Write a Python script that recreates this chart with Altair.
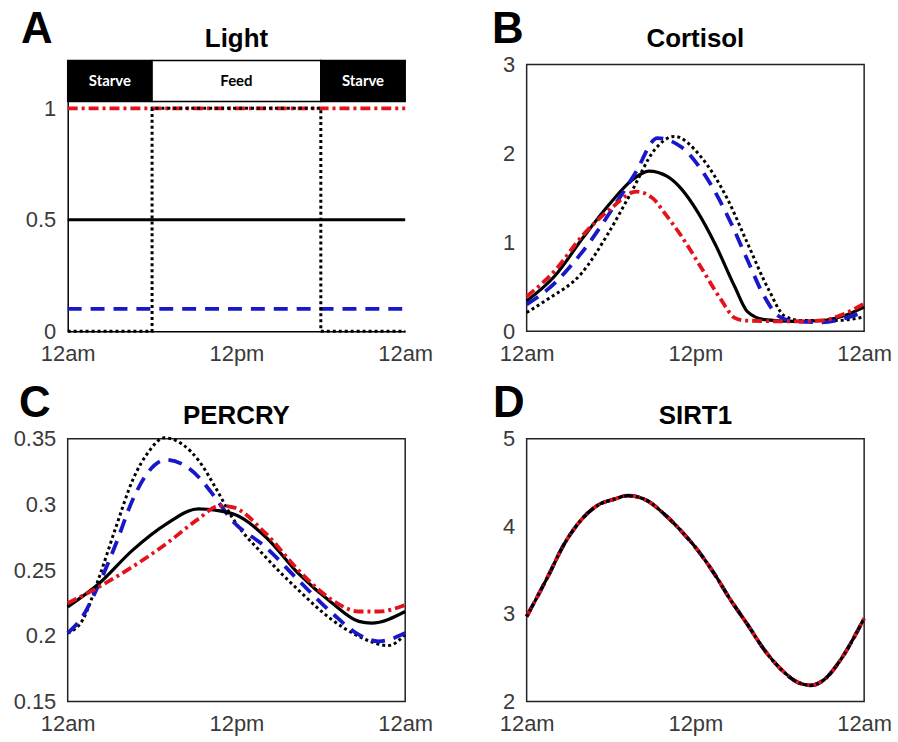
import altair as alt
import pandas as pd

# ---------------- shared time axis ----------------
TICK_HOURS = [0, 12, 24]
TICK_TEXT = ["12am", "12pm", "12am"]

# ---------------- A: light / feeding schedule ----------------
PHASE_NAMES = ["Starve", "Feed", "Starve"]
PHASE_START = [0, 6, 18]
PHASE_END = [6, 18, 24]

LIGHT_HOURS = [0, 24]
LIGHT_RED = [1.0, 1.0]
LIGHT_BLACK = [0.5, 0.5]
LIGHT_BLUE = [0.1, 0.1]
LIGHT_DOT_HOURS = [0, 6, 6, 18, 18, 24]
LIGHT_DOT = [0, 0, 1, 1, 0, 0]

# ---------------- B: cortisol ----------------
CORT_SOLID_H = [0, 2, 4, 6, 7.5, 8.7, 10, 11, 12.2, 13.4, 14.8, 15.7, 16.9, 19, 21, 22.5, 24]
CORT_SOLID = [0.34, 0.62, 1.05, 1.45, 1.70, 1.80, 1.74, 1.60, 1.33, 0.98, 0.50, 0.22, 0.13, 0.11, 0.12, 0.17, 0.27]
CORT_RED_H = [0, 2, 4, 6, 7.8, 9, 9.8, 11, 12.2, 13.8, 14.8, 15.5, 19, 21, 22.5, 24]
CORT_RED = [0.39, 0.68, 1.08, 1.38, 1.57, 1.49, 1.33, 1.07, 0.77, 0.36, 0.15, 0.12, 0.11, 0.12, 0.19, 0.31]
CORT_BLUE_H = [0, 1.5, 3.9, 6.2, 7.7, 9.3, 11, 12.9, 14.55, 15.7, 16.9, 17.9, 19, 21, 22.5, 24]
CORT_BLUE = [0.30, 0.47, 0.88, 1.40, 1.77, 2.17, 2.07, 1.70, 1.21, 0.80, 0.39, 0.17, 0.11, 0.10, 0.14, 0.22]
CORT_DOT_H = [0, 1.5, 3.9, 5.8, 7.4, 9.1, 10.5, 12.4, 14.3, 15.7, 17.2, 18.35, 19.5, 22, 24]
CORT_DOT = [0.21, 0.36, 0.65, 1.10, 1.55, 2.04, 2.19, 1.96, 1.48, 0.99, 0.47, 0.17, 0.12, 0.12, 0.16]

# ---------------- C: PER/CRY ----------------
PC_SOLID_H = [0, 2.25, 4.6, 7.0, 9.3, 11.7, 14.1, 16.4, 18.8, 20.7, 21.6, 24]
PC_SOLID = [0.222, 0.240, 0.265, 0.285, 0.2966, 0.293, 0.275, 0.2475, 0.225, 0.211, 0.2097, 0.2185]
PC_RED_H = [0, 2.25, 4.6, 7.0, 9.3, 10.8, 11.7, 14.1, 16.4, 18.8, 20.7, 22.1, 24]
PC_RED = [0.2248, 0.2374, 0.2525, 0.270, 0.289, 0.299, 0.298, 0.2777, 0.250, 0.2273, 0.2185, 0.2185, 0.2235]
PC_BLUE_H = [0, 1.06, 2.25, 3.43, 4.6, 5.8, 7.0, 8.16, 9.34, 10.5, 11.7, 14.07, 16.4, 18.8, 20.7, 22.1, 24]
PC_BLUE = [0.2021, 0.2147, 0.240, 0.270, 0.303, 0.3256, 0.334, 0.3306, 0.3205, 0.305, 0.2878, 0.2676, 0.2424, 0.2173, 0.2009, 0.1958, 0.2021]
PC_DOT_H = [0, 1.06, 2.25, 3.43, 4.6, 5.8, 6.86, 8.16, 9.34, 10.5, 11.7, 14.07, 16.4, 18.8, 20.7, 22.8, 24]
PC_DOT = [0.202, 0.212, 0.245, 0.2827, 0.318, 0.3407, 0.3507, 0.3457, 0.333, 0.313, 0.290, 0.260, 0.2349, 0.2122, 0.1996, 0.1926, 0.2009]

# ---------------- D: SIRT1 (all four conditions coincide) ----------------
SIRT_H = [0, 1.49, 2.68, 3.86, 5.05, 6.23, 7.18, 8.6, 9.78, 10.97, 12.15, 13.34, 14.5, 15.7, 16.9, 18.08, 19.26, 20.2, 21.16, 22.34, 24]
SIRT = [2.97, 3.42, 3.80, 4.07, 4.24, 4.31, 4.35, 4.29, 4.14, 3.95, 3.73, 3.46, 3.16, 2.88, 2.59, 2.37, 2.22, 2.185, 2.25, 2.48, 2.95]

PANEL_LETTERS = ["A", "B", "C", "D"]
PANEL_TITLES = ["Light", "Cortisol", "PERCRY", "SIRT1"]

# ---------------- styling ----------------
FONT = "Liberation Sans"
LABEL_COLOR = "#3a3a3a"
RED = "#e3121b"
BLUE = "#1818c8"
FRAME = "#222222"

STYLES = {
    "solid": dict(color="black", strokeWidth=3.2),
    "dashed": dict(color=BLUE, strokeWidth=3.8, strokeDash=[14, 9]),
    "dashdot": dict(color=RED, strokeWidth=3.8, strokeDash=[10, 4, 3, 4]),
    "dotted": dict(color="black", strokeWidth=3, strokeDash=[3, 3]),
}

PLOT_W = 339
ROW1_H = 272
ROW2_H = 264

label_expr = "'12am'"
for h, t in reversed(list(zip(TICK_HOURS, TICK_TEXT))):
    label_expr = f"datum.value == {h} ? '{t}' : ({label_expr})"


def x_axis(domain_line):
    return alt.Axis(values=TICK_HOURS, labelExpr=label_expr, ticks=False, grid=False,
                    domain=domain_line, domainColor="black", domainWidth=1.5,
                    labelFont=FONT, labelFontSize=22, labelColor=LABEL_COLOR,
                    labelPadding=12, labelFlush=False, labelOverlap=False, title=None)


def y_axis(values, fmt, domain_line):
    return alt.Axis(values=values, format=fmt, ticks=False, grid=False,
                    domain=domain_line, domainColor="black", domainWidth=1.5,
                    labelFont=FONT, labelFontSize=22, labelColor=LABEL_COLOR,
                    labelPadding=12, labelFlush=False, labelOverlap=False, title=None)


class Panel:
    def __init__(self, y_domain, y_values, y_fmt, domain_line):
        self.xs = alt.Scale(domain=[0, 24], nice=False, zero=False)
        self.ys = alt.Scale(domain=y_domain, nice=False, zero=False)
        self.xa = x_axis(domain_line)
        self.ya = y_axis(y_values, y_fmt, domain_line)

    def X(self, field):
        return alt.X(field, scale=self.xs, axis=self.xa)

    def Y(self, field):
        return alt.Y(field, scale=self.ys, axis=self.ya)

    def line(self, hours, values, style, interp="monotone"):
        df = pd.DataFrame({"hour": hours, "value": values, "idx": list(range(len(hours)))})
        return alt.Chart(df).mark_line(interpolate=interp, **STYLES[style]).encode(
            x=self.X("hour:Q"), y=self.Y("value:Q"), order="idx:Q")


def label_text(text, size, dx, dy):
    """Panel letter or panel heading, placed relative to the plot area."""
    return alt.Chart(pd.DataFrame({"t": [text]})).mark_text(
        font=FONT, fontSize=size, fontWeight="bold", color="black",
        align="center", baseline="alphabetic").encode(
        text="t:N", x=alt.value(dx), y=alt.value(dy))


# ---------------- panel A ----------------
BAND_LOW, BAND_HIGH = 1.03, 1.215
pa = Panel([0, BAND_HIGH], [0, 0.5, 1], ".1~f", True)
phases = pd.DataFrame({"phase": PHASE_NAMES, "start": PHASE_START, "end": PHASE_END,
                       "lo": BAND_LOW, "hi": BAND_HIGH})
band = alt.Chart(phases).mark_rect(stroke="black", strokeWidth=1.5).encode(
    x=pa.X("start:Q"), x2="end:Q", y=pa.Y("lo:Q"), y2="hi:Q",
    fill=alt.condition("datum.phase == 'Feed'", alt.value("white"), alt.value("black")))
band_text = alt.Chart(phases).transform_calculate(
    mid="(datum.start + datum.end) / 2", ymid="(datum.lo + datum.hi) / 2"
).mark_text(font="Lato", fontSize=15, fontWeight="bold", baseline="middle").encode(
    x=pa.X("mid:Q"), y=pa.Y("ymid:Q"), text="phase:N",
    color=alt.condition("datum.phase == 'Feed'", alt.value("black"), alt.value("white")))

panel_a = alt.layer(
    pa.line(LIGHT_HOURS, LIGHT_BLACK, "solid", "linear"),
    pa.line(LIGHT_HOURS, LIGHT_BLUE, "dashed", "linear"),
    pa.line(LIGHT_HOURS, LIGHT_RED, "dashdot", "linear"),
    pa.line(LIGHT_DOT_HOURS, LIGHT_DOT, "dotted", "linear"),
    band, band_text,
    label_text(PANEL_LETTERS[0], 44, -31, -17),
    label_text(PANEL_TITLES[0], 26, PLOT_W / 2, -13),
).properties(width=PLOT_W, height=ROW1_H,
             view=alt.ViewBackground(stroke="transparent"))

# ---------------- panel B ----------------
pb = Panel([0, 3.045], [0, 1, 2, 3], "d", False)
frame_b = alt.Chart(pd.DataFrame({"x0": [0], "x1": [24], "y0": [0], "y1": [3]})).mark_rect(
    filled=False, stroke=FRAME, strokeWidth=1.5).encode(
    x=pb.X("x0:Q"), x2="x1:Q", y=pb.Y("y0:Q"), y2="y1:Q")
panel_b = alt.layer(
    frame_b,
    pb.line(CORT_DOT_H, CORT_DOT, "dotted"),
    pb.line(CORT_SOLID_H, CORT_SOLID, "solid"),
    pb.line(CORT_BLUE_H, CORT_BLUE, "dashed"),
    pb.line(CORT_RED_H, CORT_RED, "dashdot"),
    label_text(PANEL_LETTERS[1], 44, -19, -17),
    label_text(PANEL_TITLES[1], 26, PLOT_W / 2, -13),
).properties(width=PLOT_W, height=ROW1_H,
             view=alt.ViewBackground(stroke="transparent"))

# ---------------- panel C ----------------
pc = Panel([0.15, 0.35], [0.15, 0.2, 0.25, 0.3, 0.35], ".2~f", False)
panel_c = alt.layer(
    pc.line(PC_DOT_H, PC_DOT, "dotted"),
    pc.line(PC_BLUE_H, PC_BLUE, "dashed"),
    pc.line(PC_SOLID_H, PC_SOLID, "solid"),
    pc.line(PC_RED_H, PC_RED, "dashdot"),
    label_text(PANEL_LETTERS[2], 44, -33, -22),
    label_text(PANEL_TITLES[2], 26, PLOT_W / 2, -15),
).properties(width=PLOT_W, height=ROW2_H)

# ---------------- panel D ----------------
pd_ = Panel([2, 5], [2, 3, 4, 5], "d", False)
panel_d = alt.layer(
    pd_.line(SIRT_H, SIRT, "dashed"),
    pd_.line(SIRT_H, SIRT, "solid"),
    pd_.line(SIRT_H, SIRT, "dashdot"),
    pd_.line(SIRT_H, SIRT, "dotted"),
    label_text(PANEL_LETTERS[3], 44, -18, -22),
    label_text(PANEL_TITLES[3], 26, PLOT_W / 2, -15),
).properties(width=PLOT_W, height=ROW2_H)

chart = alt.concat(
    panel_a, panel_b, panel_c, panel_d,
    columns=2, spacing={"row": 108, "column": 122}, bounds="flush",
).properties(
    padding={"left": 12, "top": 6, "right": 5, "bottom": 5},
    background="white",
).configure_view(stroke=FRAME, strokeWidth=1.5)

chart.save("out.html", embed_options={"renderer": "svg", "actions": False})
